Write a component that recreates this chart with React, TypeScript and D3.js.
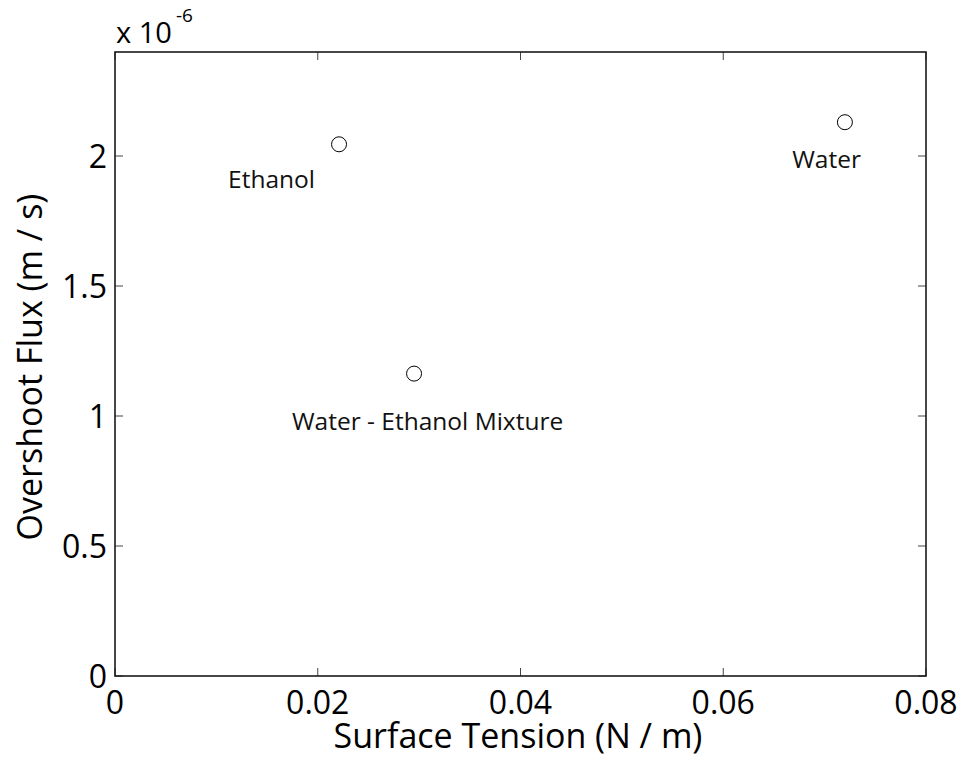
import React from "react";
import * as d3 from "d3";

const names: string[] = ["Ethanol", "Water - Ethanol Mixture", "Water"];
const surfaceTension: number[] = [0.0221, 0.0295, 0.072];
const overshootFlux: number[] = [2.045e-6, 1.163e-6, 2.13e-6];
// label anchor (start, baseline) in data units, like MATLAB text()
const labelX: number[] = [0.01115, 0.01746, 0.0668];
const labelY: number[] = [1.876e-6, 0.947e-6, 1.953e-6];

const xTicks: number[] = [0, 0.02, 0.04, 0.06, 0.08];
const xTickLabels: string[] = ["0", "0.02", "0.04", "0.06", "0.08"];
const yTicks: number[] = [0, 0.5e-6, 1e-6, 1.5e-6, 2e-6];
const yTickLabels: string[] = ["0", "0.5", "1", "1.5", "2"];

const W = 962;
const H = 764;
const M = { left: 115, right: 926, top: 52, bottom: 676 };
const FONT = "'Open Sans', sans-serif";

export default function App() {
  const x = d3.scaleLinear().domain([0, 0.08]).range([M.left, M.right]);
  const y = d3.scaleLinear().domain([0, 2.4e-6]).range([M.bottom, M.top]);
  const tickLen = 8;
  const axisColor = "#1a1a1a";

  return (
    <svg
      width={W}
      height={H}
      style={{ position: "absolute", left: 0, top: 0, background: "#fff" }}
      fontFamily={FONT}
    >
      <rect x={0} y={0} width={W} height={H} fill="#fff" />
      {/* ticks */}
      {xTicks.map((t, i) => (
        <g key={"xt" + i}>
          <line x1={x(t)} x2={x(t)} y1={M.bottom} y2={M.bottom - tickLen} stroke="#444" strokeWidth={1} />
          <line x1={x(t)} x2={x(t)} y1={M.top} y2={M.top + tickLen} stroke="#444" strokeWidth={1} />
          <text x={x(t)} y={714} textAnchor="middle" fontSize={32} fill="#000">
            {xTickLabels[i]}
          </text>
        </g>
      ))}
      {yTicks.map((t, i) => (
        <g key={"yt" + i}>
          <line x1={M.left} x2={M.left + tickLen} y1={y(t)} y2={y(t)} stroke="#444" strokeWidth={1} />
          <line x1={M.right} x2={M.right - tickLen} y1={y(t)} y2={y(t)} stroke="#444" strokeWidth={1} />
          <text x={107} y={y(t)} dy="0.36em" textAnchor="end" fontSize={32} fill="#000">
            {yTickLabels[i]}
          </text>
        </g>
      ))}
      {/* frame */}
      <rect
        x={M.left}
        y={M.top}
        width={M.right - M.left}
        height={M.bottom - M.top}
        fill="none"
        stroke={axisColor}
        strokeWidth={1.6}
      />
      {/* exponent */}
      <text x={116} y={43} fontSize={29} fill="#000">
        x 10
      </text>
      <text x={176} y={22} fontSize={19} fill="#000">
        -6
      </text>
      {/* points */}
      {surfaceTension.map((s, i) => (
        <circle key={"p" + i} cx={x(s)} cy={y(overshootFlux[i])} r={7.5} fill="none" stroke="#000" strokeWidth={1} />
      ))}
      {names.map((n, i) => (
        <text key={"l" + i} x={x(labelX[i])} y={y(labelY[i])} fontSize={24.5} fill="#111">
          {n}
        </text>
      ))}
      {/* axis titles */}
      <text x={518} y={748} textAnchor="middle" fontSize={34} fill="#000">
        Surface Tension (N / m)
      </text>
      <text
        transform={`translate(42, 367) rotate(-90)`}
        textAnchor="middle"
        fontSize={34}
        fill="#000"
      >
        Overshoot Flux (m / s)
      </text>
    </svg>
  );
}
